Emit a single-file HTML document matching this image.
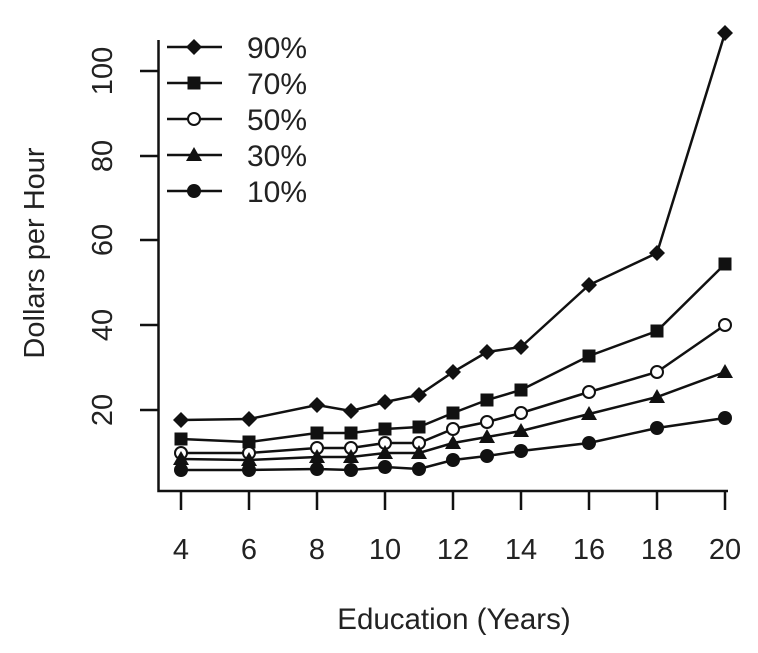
<!DOCTYPE html>
<html><head><style>body{margin:0;background:#fff}svg{display:block}</style></head><body>
<svg width="758" height="653" xmlns="http://www.w3.org/2000/svg" font-family="Liberation Sans, sans-serif" fill="#222">
<g stroke="#111" stroke-width="2.5" fill="none">
<path d="M158.5 40 V491 H728"/>
<path d="M181 491v19M249 491v19M317 491v19M385 491v19M453 491v19M521 491v19M589 491v19M657 491v19M725 491v19"/>
<path d="M140 410h18M140 325h18M140 240h18M140 156h18M140 71h18"/>
</g>
<g font-size="29" text-anchor="middle">
<text x="181" y="559">4</text><text x="249" y="559">6</text><text x="317" y="559">8</text><text x="385" y="559">10</text><text x="453" y="559">12</text><text x="521" y="559">14</text><text x="589" y="559">16</text><text x="657" y="559">18</text><text x="725" y="559">20</text>
<text transform="translate(112,410) rotate(-90)">20</text>
<text transform="translate(112,325) rotate(-90)">40</text>
<text transform="translate(112,240) rotate(-90)">60</text>
<text transform="translate(112,156) rotate(-90)">80</text>
<text transform="translate(112,71) rotate(-90)">100</text>
<text x="454" y="629" font-size="29.5">Education (Years)</text>
<text transform="translate(44,253) rotate(-90)" font-size="29">Dollars per Hour</text>
</g>
<g stroke="#111" stroke-width="2.5" fill="none">
<polyline points="181,420 249,419 317,405 351,411 385,402 419,395 453,372 487,352 521,347 589,285 657,253 725,33"/>
<polyline points="181,439 249,442 317,433 351,433 385,429 419,427 453,413 487,400 521,390 589,356 657,331 725,264"/>
<polyline points="181,453 249,453 317,448 351,448 385,443 419,443 453,429 487,422 521,413 589,392 657,372 725,325"/>
<polyline points="181,459 249,460 317,457 351,457 385,453 419,453 453,443 487,437 521,431 589,414 657,397 725,372"/>
<polyline points="181,470 249,470 317,469 351,470 385,467 419,469 453,460 487,456 521,451 589,443 657,428 725,418"/>
<path d="M167 47h55M167 83h55M167 119h55M167 155h55M167 191h55"/>
</g>
<defs>
<path id="d" d="M0 -8L8 0L0 8L-8 0Z" fill="#111"/>
<rect id="s" x="-6.5" y="-6.5" width="13" height="13" fill="#111"/>
<circle id="o" r="6" fill="#fff" stroke="#111" stroke-width="2"/>
<path id="t" d="M0 -8L8 6H-8Z" fill="#111"/>
<circle id="c" r="7" fill="#111"/>
</defs>
<g>
<use href="#d" x="181" y="420"/><use href="#d" x="249" y="419"/><use href="#d" x="317" y="405"/><use href="#d" x="351" y="411"/><use href="#d" x="385" y="402"/><use href="#d" x="419" y="395"/><use href="#d" x="453" y="372"/><use href="#d" x="487" y="352"/><use href="#d" x="521" y="347"/><use href="#d" x="589" y="285"/><use href="#d" x="657" y="253"/><use href="#d" x="725" y="33"/>
<use href="#s" x="181" y="439"/><use href="#s" x="249" y="442"/><use href="#s" x="317" y="433"/><use href="#s" x="351" y="433"/><use href="#s" x="385" y="429"/><use href="#s" x="419" y="427"/><use href="#s" x="453" y="413"/><use href="#s" x="487" y="400"/><use href="#s" x="521" y="390"/><use href="#s" x="589" y="356"/><use href="#s" x="657" y="331"/><use href="#s" x="725" y="264"/>
<use href="#o" x="181" y="453"/><use href="#o" x="249" y="453"/><use href="#o" x="317" y="448"/><use href="#o" x="351" y="448"/><use href="#o" x="385" y="443"/><use href="#o" x="419" y="443"/><use href="#o" x="453" y="429"/><use href="#o" x="487" y="422"/><use href="#o" x="521" y="413"/><use href="#o" x="589" y="392"/><use href="#o" x="657" y="372"/><use href="#o" x="725" y="325"/>
<use href="#t" x="181" y="459"/><use href="#t" x="249" y="460"/><use href="#t" x="317" y="457"/><use href="#t" x="351" y="457"/><use href="#t" x="385" y="453"/><use href="#t" x="419" y="453"/><use href="#t" x="453" y="443"/><use href="#t" x="487" y="437"/><use href="#t" x="521" y="431"/><use href="#t" x="589" y="414"/><use href="#t" x="657" y="397"/><use href="#t" x="725" y="372"/>
<use href="#c" x="181" y="470"/><use href="#c" x="249" y="470"/><use href="#c" x="317" y="469"/><use href="#c" x="351" y="470"/><use href="#c" x="385" y="467"/><use href="#c" x="419" y="469"/><use href="#c" x="453" y="460"/><use href="#c" x="487" y="456"/><use href="#c" x="521" y="451"/><use href="#c" x="589" y="443"/><use href="#c" x="657" y="428"/><use href="#c" x="725" y="418"/>
<use href="#d" x="194" y="47"/><use href="#s" x="194" y="83"/><use href="#o" x="194" y="119"/><use href="#t" x="194" y="155"/><use href="#c" x="194" y="191"/>
</g>
<g font-size="30">
<text x="247" y="58">90%</text><text x="247" y="94">70%</text><text x="247" y="130">50%</text><text x="247" y="166">30%</text><text x="247" y="202">10%</text>
</g>
</svg>
</body></html>
